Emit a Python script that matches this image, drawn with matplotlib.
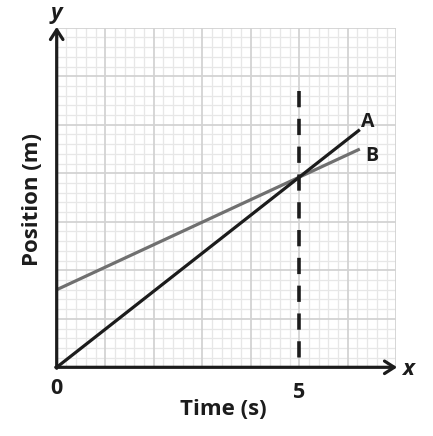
import matplotlib
matplotlib.use("Agg")
import matplotlib.pyplot as plt
import numpy as np

# data
a_x = [0, 6.25]
a_y = [0, 4.9]
b_x = [0, 6.25]
b_y = [1.6, 4.5]
dash_x = [5, 5]
dash_y = [5.7, 0]
xtick_vals = [0, 5]
xtick_labels = ["0", "5"]

plt.rcParams['font.family'] = ['Open Sans', 'DejaVu Sans']

fig = plt.figure(figsize=(4.33, 4.36), dpi=100)
ax = fig.add_axes([56.7/433, (436-367.3)/436, 339.5/433, 339.5/436])
ax.set_xlim(0, 7)
ax.set_ylim(0, 7)
for s in ax.spines.values():
    s.set_visible(False)
ax.set_xticks([])
ax.set_yticks([])

# grid
minor = np.arange(0, 7.01, 0.2)
for v in minor:
    major = abs(v - round(v)) < 1e-6
    c = '#d3d3d3' if major else '#e7e7e7'
    lw = 1.3 if major else 0.9
    z = 1 if major else 0.5
    ax.axvline(v, color=c, lw=lw, zorder=z)
    ax.axhline(v, color=c, lw=lw, zorder=z)

ax.plot(b_x, b_y, color='#707070', lw=2.3, solid_capstyle='butt', zorder=3)
ax.plot(a_x, a_y, color='#1c1c1c', lw=2.3, solid_capstyle='butt', zorder=4)
ax.plot(dash_x, dash_y, color='#1c1c1c', lw=2.6, dashes=(4.5, 3.2), zorder=5)

# axes arrows
ax.annotate('', xy=(0, 7.02), xytext=(0, -0.02), xycoords='data',
            arrowprops=dict(arrowstyle='->,head_length=0.7,head_width=0.45', color='#1c1c1c', lw=2.3, shrinkA=0, shrinkB=0),
            annotation_clip=False, zorder=6)
ax.annotate('', xy=(7.02, 0), xytext=(-0.02, 0), xycoords='data',
            arrowprops=dict(arrowstyle='->,head_length=0.7,head_width=0.45', color='#1c1c1c', lw=2.3, shrinkA=0, shrinkB=0),
            annotation_clip=False, zorder=6)

tk = dict(fontweight='bold', color='#1c1c1c')
ax.text(0, 7.3, 'y', fontsize=16, fontstyle='italic', ha='center', va='center', **tk)
ax.text(7.12, -0.05, 'x', fontsize=16, fontstyle='italic', ha='left', va='center', **tk)

ax.text(6.27, 5.05, 'A', fontsize=14, ha='left', va='center', **tk)
ax.text(6.37, 4.35, 'B', fontsize=14, ha='left', va='center', **tk)

ax.text(0, -0.22, xtick_labels[0], fontsize=15.5, ha='center', va='top', **tk)
ax.text(5, -0.3, xtick_labels[1], fontsize=15.5, ha='center', va='top', **tk)

ax.text(3.43, -0.66, 'Time (s)', fontsize=16, ha='center', va='top', **tk)
ax.text(-0.49, 3.46, 'Position (m)', fontsize=16, ha='center', va='center', rotation=90, **tk)

fig.savefig('out.png', dpi=100)
